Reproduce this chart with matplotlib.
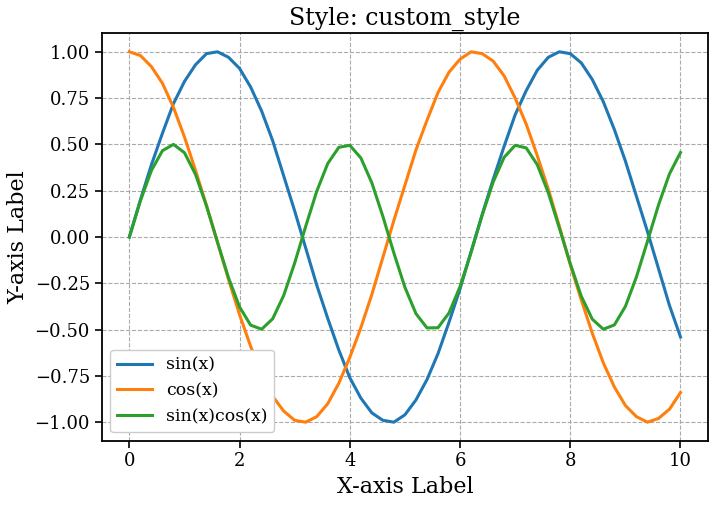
import matplotlib
matplotlib.use("Agg")
import matplotlib.pyplot as plt

x = [i/5 for i in range(51)]
sin_v = [0,.20,.39,.56,.72,.84,.93,.99,1.00,.97,.91,.81,.68,.52,.33,.14,-.06,-.26,-.44,-.61,-.76,-.87,-.95,-.99,-1.00,-.96,-.88,-.77,-.63,-.46,-.28,-.08,.12,.31,.49,.66,.79,.90,.97,1.00,.99,.94,.85,.73,.58,.41,.22,.03,-.17,-.37,-.54]
cos_v = [1,.98,.92,.83,.70,.54,.36,.17,-.03,-.23,-.42,-.59,-.74,-.86,-.94,-.99,-1.00,-.97,-.90,-.79,-.65,-.49,-.31,-.11,.09,.28,.47,.63,.78,.89,.96,1.00,.99,.95,.87,.75,.61,.44,.26,.06,-.15,-.34,-.52,-.68,-.81,-.91,-.97,-1.00,-.98,-.93,-.84]
sc_v = [0,.195,.359,.466,.500,.455,.338,.167,-.029,-.221,-.378,-.476,-.498,-.442,-.316,-.140,.058,.247,.397,.484,.495,.427,.292,.111,-.087,-.272,-.414,-.491,-.490,-.410,-.268,-.083,.116,.296,.430,.495,.481,.391,.240,.050,-.144,-.320,-.444,-.498,-.475,-.375,-.216,-.024,.172,.341,.456]

plt.rcParams['font.family'] = ['DejaVu Serif']
fig, ax = plt.subplots(figsize=(7.15, 5.05), dpi=100)
ax.plot(x, sin_v, lw=2.2, label='sin(x)', color='#1f77b4', solid_joinstyle='round')
ax.plot(x, cos_v, lw=2.2, label='cos(x)', color='#ff7f0e', solid_joinstyle='round')
ax.plot(x, sc_v, lw=2.2, label='sin(x)cos(x)', color='#2ca02c', solid_joinstyle='round')
ax.set_title('Style: custom_style', fontsize=17)
ax.set_xlabel('X-axis Label', fontsize=16)
ax.set_ylabel('Y-axis Label', fontsize=16)
ax.set_ylim(-1.1, 1.1)
ax.set_yticks([-1, -.75, -.5, -.25, 0, .25, .5, .75, 1])
ax.tick_params(labelsize=13, direction='out', length=5, width=1.2)
for s in ax.spines.values():
    s.set_linewidth(1.3)
ax.grid(True, linestyle='--', color='#aaaaaa', linewidth=0.8)
ax.legend(loc='lower left', fontsize=12.5, framealpha=1)
fig.tight_layout(pad=0.5)
fig.savefig('out.png')
